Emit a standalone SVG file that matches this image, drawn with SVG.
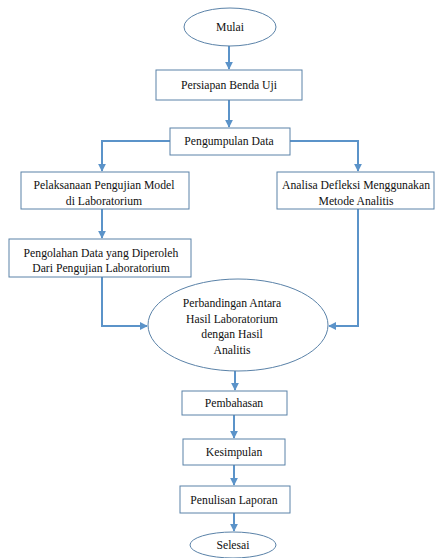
<svg xmlns="http://www.w3.org/2000/svg" width="438" height="558" viewBox="0 0 438 558">
<style>
.n{fill:#fff;stroke:#5a82a8;stroke-width:1}
text{font-family:'Liberation Serif','DejaVu Serif',serif;font-size:11.7px;fill:#111;text-anchor:middle}
.c{fill:none;stroke:#5b93c9;stroke-width:2}
</style>
<defs>
<marker id="a" viewBox="0 0 10 10" refX="9" refY="5" markerWidth="4" markerHeight="4" orient="auto">
<path d="M0,0 L10,5 L0,10 z" fill="#5b93c9"/>
</marker>
</defs>
<rect width="438" height="558" fill="#fff"/>
<g id="connectors">
<path class="c" d="M229,46 V69" marker-end="url(#a)"/>
<path class="c" d="M229,100 V127" marker-end="url(#a)"/>
<path class="c" d="M170,141 H102 V171" marker-end="url(#a)"/>
<path class="c" d="M290,141 H358 V171" marker-end="url(#a)"/>
<path class="c" d="M102,209 V238" marker-end="url(#a)"/>
<path class="c" d="M102,277 V326 H147" marker-end="url(#a)"/>
<path class="c" d="M358,209 V326 H329" marker-end="url(#a)"/>
<path class="c" d="M235,371 V390" marker-end="url(#a)"/>
<path class="c" d="M234,415 V438" marker-end="url(#a)"/>
<path class="c" d="M234,465 V485" marker-end="url(#a)"/>
<path class="c" d="M234,513 V531" marker-end="url(#a)"/>
</g>
<g id="mulai"><ellipse class="n" cx="230" cy="27" rx="46" ry="19"/><text x="230" y="31">Mulai</text></g>
<g id="persiapan"><rect class="n" x="156" y="70" width="146" height="30"/><text x="229" y="89">Persiapan Benda Uji</text></g>
<g id="pengumpulan"><rect class="n" x="170" y="128" width="120" height="27"/><text x="229" y="145">Pengumpulan Data</text></g>
<g id="pelaksanaan"><rect class="n" x="21" y="172" width="168" height="37"/><text x="104" y="189">Pelaksanaan Pengujian Model</text><text x="104" y="205">di Laboratorium</text></g>
<g id="analisa"><rect class="n" x="277" y="172" width="157" height="37"/><text x="356" y="189">Analisa Defleksi Menggunakan</text><text x="356" y="205">Metode Analitis</text></g>
<g id="pengolahan"><rect class="n" x="9" y="239" width="182" height="38"/><text x="101" y="257">Pengolahan Data yang Diperoleh</text><text x="101" y="272">Dari Pengujian Laboratorium</text></g>
<g id="perbandingan"><ellipse class="n" cx="238" cy="325" rx="90" ry="46"/><text x="232" y="307">Perbandingan Antara</text><text x="232" y="323">Hasil Laboratorium</text><text x="232" y="338">dengan Hasil</text><text x="232" y="354">Analitis</text></g>
<g id="pembahasan"><rect class="n" x="182" y="391" width="105" height="24"/><text x="234" y="407">Pembahasan</text></g>
<g id="kesimpulan"><rect class="n" x="183" y="439" width="102" height="26"/><text x="234" y="456">Kesimpulan</text></g>
<g id="penulisan"><rect class="n" x="180" y="486" width="110" height="27"/><text x="234" y="504">Penulisan Laporan</text></g>
<g id="selesai"><ellipse class="n" cx="233" cy="545" rx="43" ry="13"/><text x="233" y="549">Selesai</text></g>
</svg>
